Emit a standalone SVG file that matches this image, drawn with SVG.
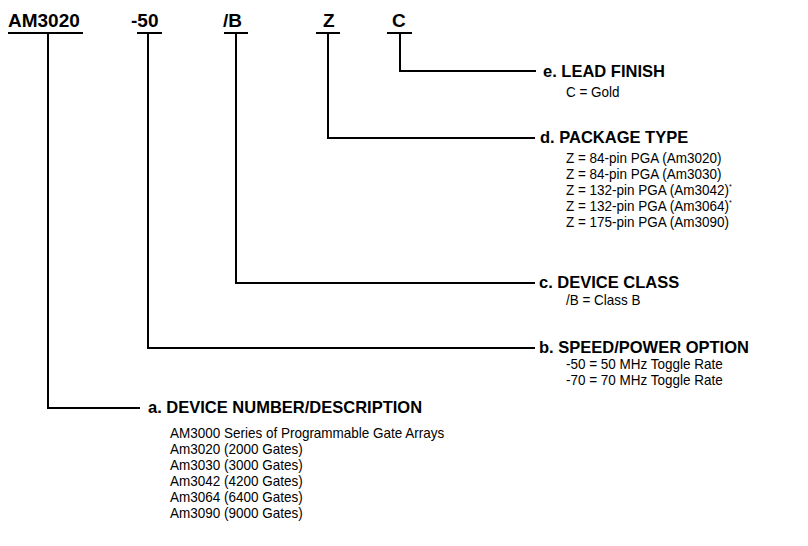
<svg xmlns="http://www.w3.org/2000/svg" width="808" height="546" viewBox="0 0 808 546">
<style>
text{font-family:"Liberation Sans",Arial,Helvetica,sans-serif;fill:#000}
.code{font-size:19px;font-weight:bold}
.hd{font-size:16.5px;font-weight:bold}
.bd{font-size:15px}
.sup{font-size:8px}
#connectors path{fill:none;stroke:#000;stroke-width:2}
</style>
<rect width="808" height="546" fill="#fff"/>
<g id="connectors">
<path d="M8 33H83M48 33V408H140"/>
<path d="M137 33H162M148 33V348H535"/>
<path d="M224 33H248M236 33V283H535"/>
<path d="M316 33H340M328 33V138H535"/>
<path d="M387 33H412M400 33V71H536"/>
</g>
<g id="codes">
<text class="code" x="8" y="27">AM3020</text>
<text class="code" x="131" y="27">-50</text>
<text class="code" x="223" y="27">/B</text>
<text class="code" x="323" y="27">Z</text>
<text class="code" x="392" y="27">C</text>
</g>
<g id="lead-finish">
<text class="hd" x="543" y="77">e. LEAD FINISH</text>
<g transform="translate(566,0) scale(0.9,1)">
<text class="bd" x="0" y="97">C = Gold</text>
</g>
</g>
<g id="package-type">
<text class="hd" x="540" y="143">d. PACKAGE TYPE</text>
<g transform="translate(566,0) scale(0.9,1)">
<text class="bd" x="0" y="163">Z = 84-pin PGA (Am3020)</text>
<text class="bd" x="0" y="179">Z = 84-pin PGA (Am3030)</text>
<text class="bd" x="0" y="195">Z = 132-pin PGA (Am3042)<tspan class="sup" dy="-6">*</tspan></text>
<text class="bd" x="0" y="211">Z = 132-pin PGA (Am3064)<tspan class="sup" dy="-6">*</tspan></text>
<text class="bd" x="0" y="227">Z = 175-pin PGA (Am3090)</text>
</g>
</g>
<g id="device-class">
<text class="hd" x="539" y="288">c. DEVICE CLASS</text>
<g transform="translate(566,0) scale(0.9,1)">
<text class="bd" x="0" y="305">/B = Class B</text>
</g>
</g>
<g id="speed-power">
<text class="hd" x="539" y="353">b. SPEED/POWER OPTION</text>
<g transform="translate(566,0) scale(0.9,1)">
<text class="bd" x="0" y="369">-50 = 50 MHz Toggle Rate</text>
<text class="bd" x="0" y="385">-70 = 70 MHz Toggle Rate</text>
</g>
</g>
<g id="device-number">
<text class="hd" x="148" y="413">a. DEVICE NUMBER/DESCRIPTION</text>
<g transform="translate(170,0) scale(0.9,1)">
<text class="bd" x="0" y="438">AM3000 Series of Programmable Gate Arrays</text>
<text class="bd" x="0" y="454">Am3020 (2000 Gates)</text>
<text class="bd" x="0" y="470">Am3030 (3000 Gates)</text>
<text class="bd" x="0" y="486">Am3042 (4200 Gates)</text>
<text class="bd" x="0" y="502">Am3064 (6400 Gates)</text>
<text class="bd" x="0" y="518">Am3090 (9000 Gates)</text>
</g>
</g>
</svg>
